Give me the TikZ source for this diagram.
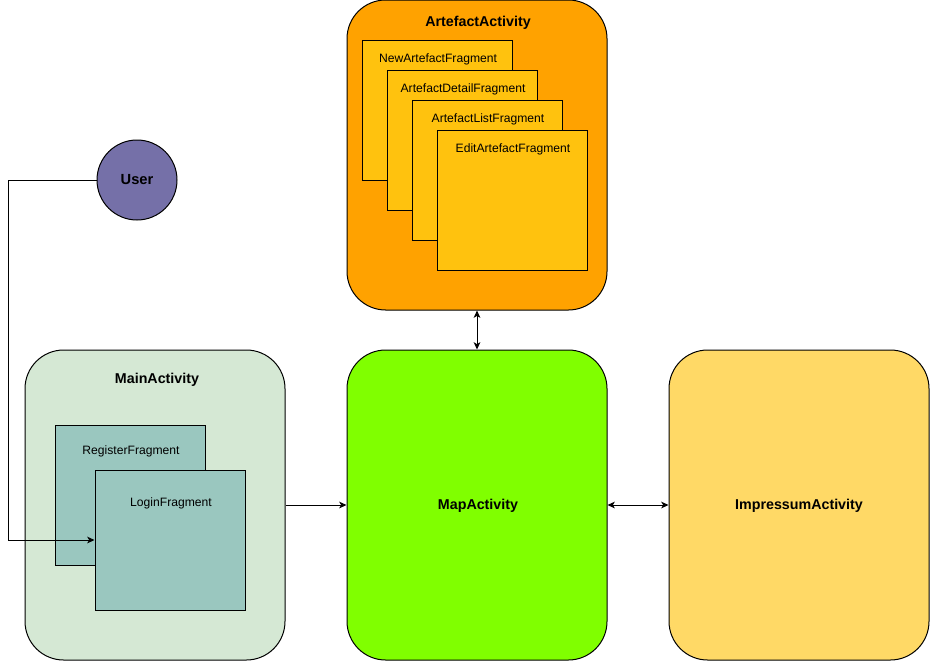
\documentclass[tikz,border=0pt]{standalone}
\usepackage{fontspec}
\setmainfont{Liberation Sans}
\usetikzlibrary{arrows.meta}
\definecolor{mainfill}{HTML}{D5E8D4}
\definecolor{fragfill}{HTML}{9AC7BF}
\definecolor{mapfill}{HTML}{80FF00}
\definecolor{impfill}{HTML}{FFD966}
\definecolor{artfill}{HTML}{FFA200}
\definecolor{afragfill}{HTML}{FFC20E}
\definecolor{userfill}{HTML}{7570A8}
\tikzset{
  act/.style={draw=black, line width=0.75pt, rounded corners=29pt, minimum width=195pt, minimum height=232.5pt, inner sep=0pt},
  frag/.style={draw=black, line width=0.75pt, minimum width=112.5pt, minimum height=105pt, inner sep=0pt},
  ttl/.style={font=\bfseries\fontsize{10.7}{12}\selectfont, inner sep=0pt},
  ftxt/.style={font=\fontsize{9.1}{11}\selectfont, inner sep=0pt},
  arr/.style={line width=0.75pt, -{Stealth[length=5.5pt,width=5pt,inset=1.5pt]}},
  darr/.style={line width=0.75pt, {Stealth[length=5.5pt,width=5pt,inset=1.5pt]}-{Stealth[length=5.5pt,width=5pt,inset=1.5pt]}}
}
\begin{document}
\begin{tikzpicture}[x=0.75pt,y=-0.75pt]
\useasboundingbox (0,0) rectangle (930,661);
% MainActivity
\node[act, fill=mainfill] (main) at (155,505) {};
\node[ttl] (mainT) at (157,379.5) {MainActivity};
\node[frag, fill=fragfill] (reg) at (130,495) {};
\node[ftxt] (regT) at (131,451) {RegisterFragment};
\node[frag, fill=fragfill] (login) at (170,540) {};
\node[ftxt] (loginT) at (171,503) {LoginFragment};
% MapActivity
\node[act, fill=mapfill] (map) at (477,505) {};
\node[ttl] (mapT) at (478,505.5) {MapActivity};
% Impressum
\node[act, fill=impfill] (imp) at (799,505) {};
\node[ttl] (impT) at (799,505.5) {ImpressumActivity};
% ArtefactActivity
\node[act, fill=artfill] (art) at (477,155) {};
\node[ttl] (artT) at (478,22.5) {ArtefactActivity};
\node[frag, fill=afragfill] (newf) at (437,110) {};
\node[ftxt] (newfT) at (438,59) {NewArtefactFragment};
\node[frag, fill=afragfill] (det) at (462,140) {};
\node[ftxt] (detT) at (463,89) {ArtefactDetailFragment};
\node[frag, fill=afragfill] (list) at (487,170) {};
\node[ftxt] (listT) at (488,119) {ArtefactListFragment};
\node[frag, fill=afragfill] (edit) at (512,200) {};
\node[ftxt] (editT) at (513,149) {EditArtefactFragment};
% User
\node[circle, draw=black, line width=0.75pt, fill=userfill, minimum size=60pt, inner sep=0pt, font=\bfseries\fontsize{11}{12}\selectfont] (user) at (137,180) {User};
% connectors
\coordinate (c1) at (8,180);
\coordinate (c2) at (8,540);
\draw[arr] (user.west) -- (c1) -- (c2) -- (login.west);
\draw[arr] (main.east) -- (map.west);
\draw[darr] (map.east) -- (imp.west);
\draw[darr] (art.south) -- (map.north);
\end{tikzpicture}
\end{document}
